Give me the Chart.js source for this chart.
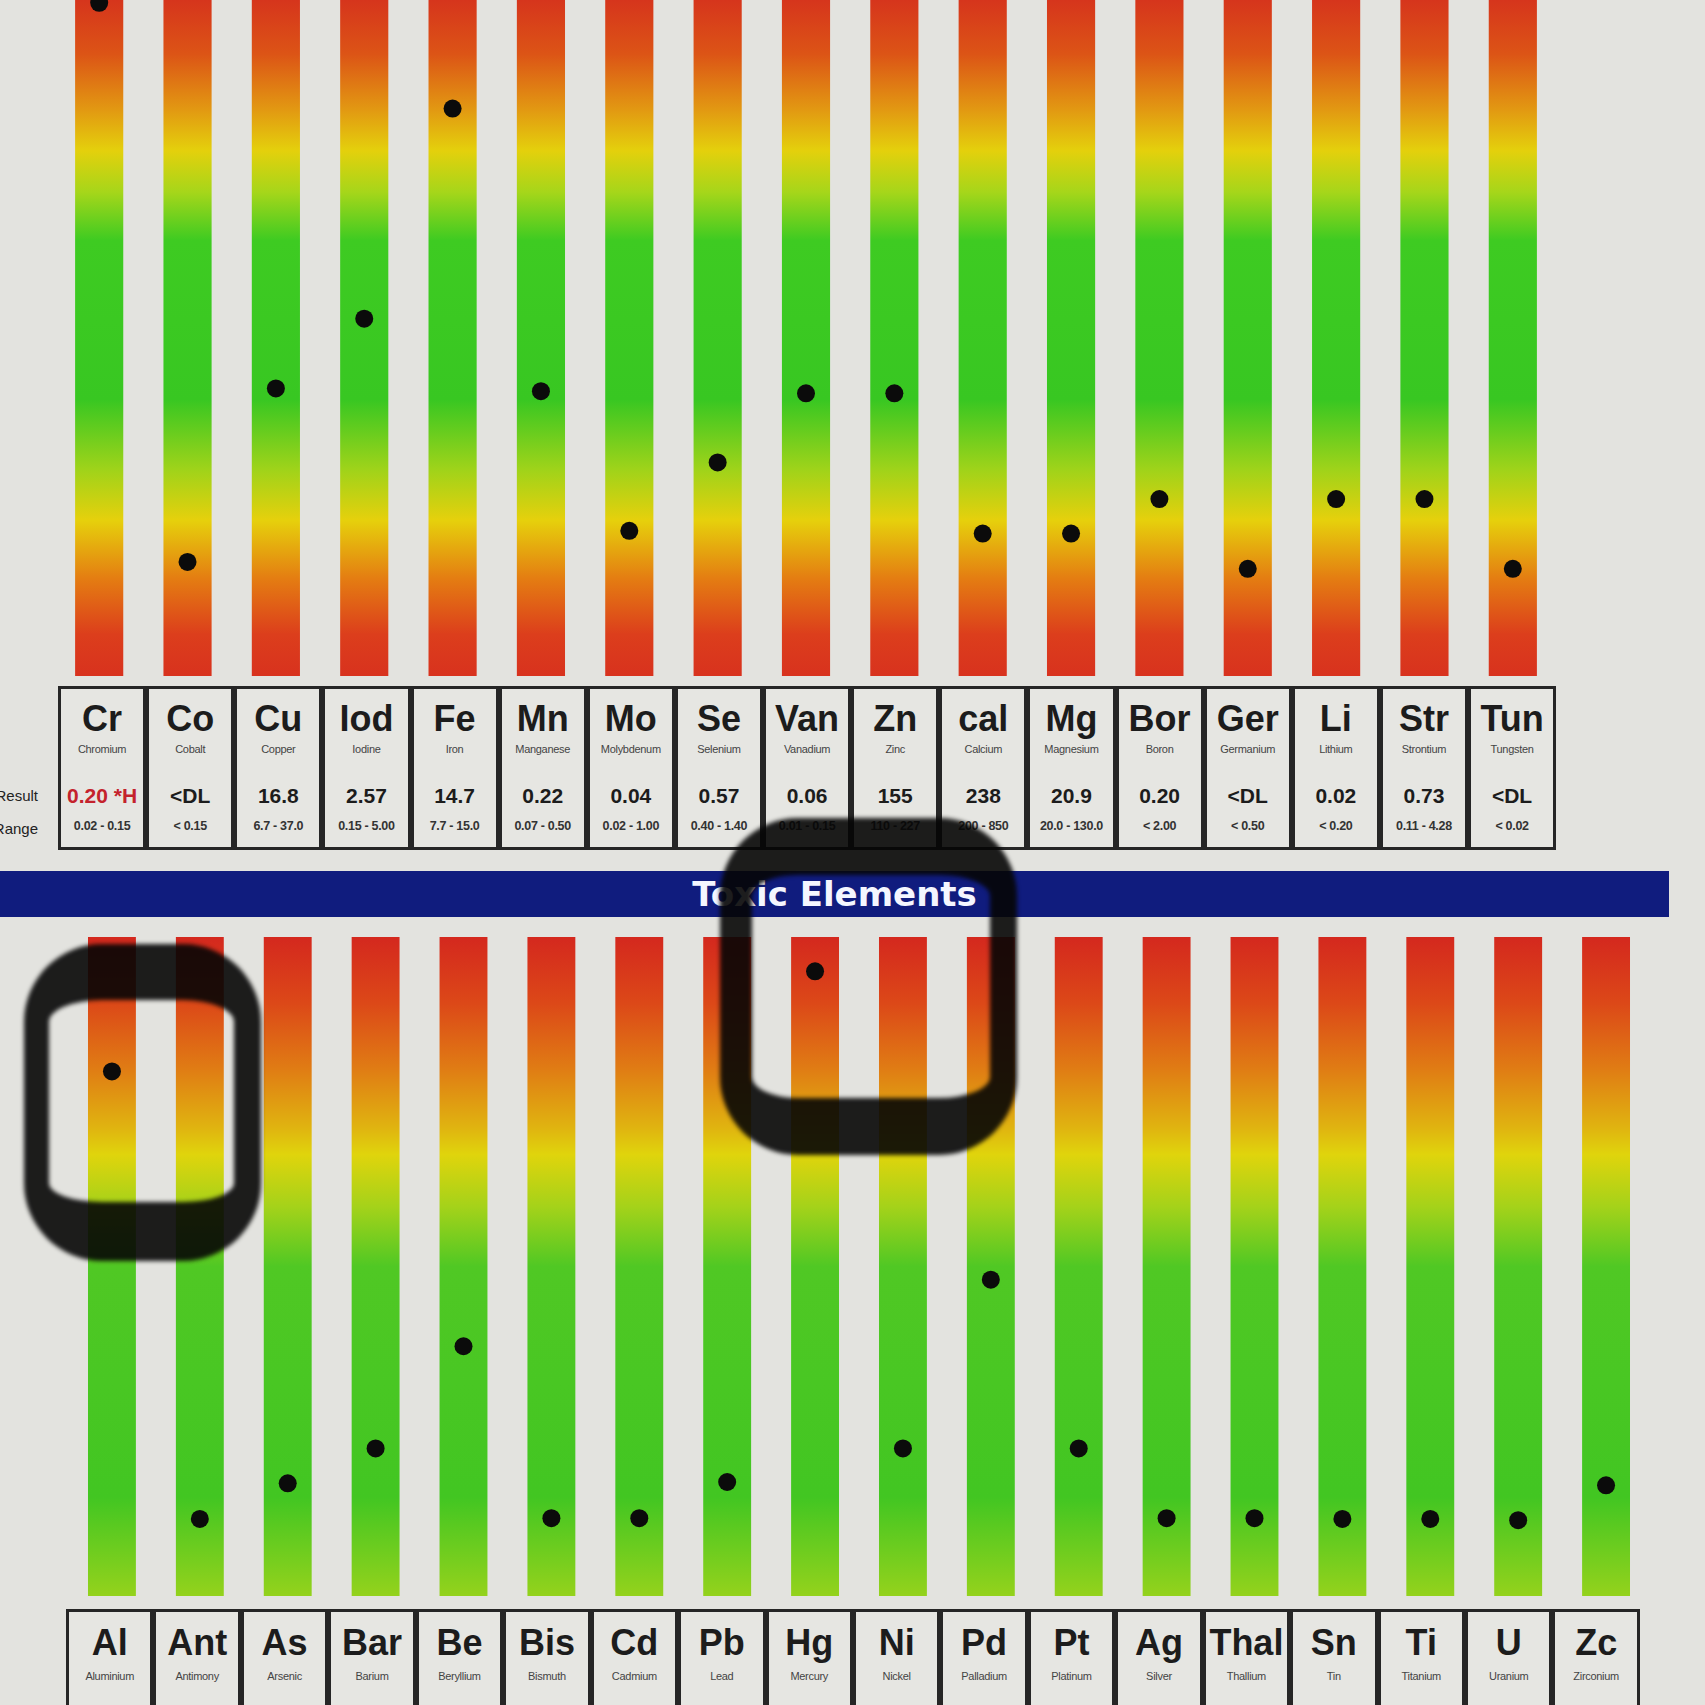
<!DOCTYPE html>
<html>
<head>
<meta charset="utf-8">
<script src="https://cdn.jsdelivr.net/npm/chart.js@4"></script>
<style>
  body { margin: 0; width: 1705px; height: 1705px; overflow: hidden; position: relative;
         background: #e3e3df; font-family: "Liberation Sans", Arial, sans-serif; color: #1c1c1c; }
  canvas { position: absolute; left: 0; }
  #topChart { top: 0; }
  #toxicChart { top: 937px; }
  .tbl { position: absolute; display: flex; }
  .cell { position: relative; flex: 1 1 0; box-sizing: border-box; border: 3px solid #262626; background: #e6e6e2; }
  .cell div { position: absolute; left: -4px; right: -4px; text-align: center; white-space: nowrap; }
  .sym { font-size: 36px; line-height: 36px; font-weight: bold; }
  .nm { font-size: 11px; line-height: 11px; color: #444; letter-spacing: -0.3px; }
  .res { font-size: 21px; line-height: 21px; font-weight: bold; }
  .rng { font-size: 12.5px; line-height: 13px; font-weight: bold; color: #333; letter-spacing: -0.3px; }
  .rowlab { position: absolute; right: 1667px; font-size: 15px; color: #222; }
  #banner { position: absolute; left: 0; top: 871px; width: 1669px; height: 46px; background: #101c7e;
            color: #f4f6ff; font: bold 34px "DejaVu Sans", sans-serif; line-height: 46px; text-align: center; }
  .loop { position: absolute; box-sizing: border-box; border-style: solid; border-color: rgba(6,6,6,0.9);
          border-radius: 78px; filter: blur(2px); }
</style>
</head>
<body>
<canvas id="topChart" width="1705" height="676"></canvas>
<div class="tbl" id="topTable" style="left:58px; top:686px; width:1498px; height:164px;"></div>
<div class="rowlab" style="top:787px;">Result</div>
<div class="rowlab" style="top:820px;">Range</div>
<div id="banner">Toxic Elements</div>
<canvas id="toxicChart" width="1705" height="659"></canvas>
<div class="tbl" id="toxicTable" style="left:66px; top:1609px; width:1574px; height:130px;"></div>
<div class="loop" style="left:24px; top:944px; width:237px; height:317px; border-width:56px 27px 59px 25px;"></div>
<div class="loop" style="left:720px; top:818px; width:297px; height:337px; border-width:57px 27px 57px 32px;"></div>
<script>
// essential elements (top panel)
var topLabels = ['Cr', 'Co', 'Cu', 'Iod', 'Fe', 'Mn', 'Mo', 'Se', 'Van', 'Zn', 'cal', 'Mg', 'Bor', 'Ger', 'Li', 'Str', 'Tun'];
var topNames = ['Chromium', 'Cobalt', 'Copper', 'Iodine', 'Iron', 'Manganese', 'Molybdenum', 'Selenium', 'Vanadium', 'Zinc',
                'Calcium', 'Magnesium', 'Boron', 'Germanium', 'Lithium', 'Strontium', 'Tungsten'];
var topResults = ['0.20 *H', '<DL', '16.8', '2.57', '14.7', '0.22', '0.04', '0.57', '0.06', '155', '238', '20.9', '0.20', '<DL', '0.02', '0.73', '<DL'];
var topRanges = ['0.02 - 0.15', '< 0.15', '6.7 - 37.0', '0.15 - 5.00', '7.7 - 15.0', '0.07 - 0.50', '0.02 - 1.00', '0.40 - 1.40',
                 '0.01 - 0.15', '110 - 227', '200 - 850', '20.0 - 130.0', '< 2.00', '< 0.50', '< 0.20', '0.11 - 4.28', '< 0.02'];
// dot position along the bar, 0 = bottom, 100 = top
var topPositions = [97.4, 16.5, 41.6, 51.7, 82.1, 41.2, 21.0, 30.9, 40.9, 40.9, 20.6, 20.6, 25.6, 15.5, 25.6, 25.6, 15.5];

// toxic elements (bottom panel)
var toxicLabels = ['Al', 'Ant', 'As', 'Bar', 'Be', 'Bis', 'Cd', 'Pb', 'Hg', 'Ni', 'Pd', 'Pt', 'Ag', 'Thal', 'Sn', 'Ti', 'U', 'Zc'];
var toxicNames = ['Aluminium', 'Antimony', 'Arsenic', 'Barium', 'Beryllium', 'Bismuth', 'Cadmium', 'Lead', 'Mercury', 'Nickel',
                  'Palladium', 'Platinum', 'Silver', 'Thallium', 'Tin', 'Titanium', 'Uranium', 'Zirconium'];
var toxicPositions = [79.6, 11.7, 17.1, 22.4, 37.9, 11.8, 11.8, 17.3, 94.8, 22.4, 48.0, 22.4, 11.8, 11.8, 11.7, 11.7, 11.5, 16.8];

var barRange = [0, 100];

// colour ramps, top of bar -> bottom of bar
var topStops = [[0, '#d42c1e'], [0.1, '#dc5416'], [0.18, '#e29812'], [0.24, '#e4d00c'], [0.3, '#a6d61a'], [0.37, '#3ecb22'],
                [0.6, '#38c722'], [0.7, '#9ed31a'], [0.775, '#e6d00c'], [0.86, '#e47c12'], [0.94, '#dc3e1c'], [1, '#d8321e']];
var toxicStops = [[0, '#d4281e'], [0.1, '#dc4818'], [0.2, '#e07c14'], [0.29, '#e0b410'], [0.33, '#e0d40c'], [0.41, '#a4d21a'],
                  [0.5, '#50c824'], [0.85, '#42c622'], [1, '#94d21c']];

function gradientFill(stops) {
  return function (ctx) {
    var chart = ctx.chart;
    if (!chart.chartArea) return null;
    var y = chart.scales.y;
    var g = chart.ctx.createLinearGradient(0, y.getPixelForValue(barRange[1]), 0, y.getPixelForValue(barRange[0]));
    stops.forEach(function (s) { g.addColorStop(s[0], s[1]); });
    return g;
  };
}

function makeChart(id, labels, positions, stops, yMax, padLeft, padRight) {
  return new Chart(document.getElementById(id), {
    data: {
      labels: labels,
      datasets: [
        { type: 'line', data: positions, showLine: false, order: 0, clip: false,
          pointRadius: 9, pointBackgroundColor: '#0b0b0b', pointBorderWidth: 0, pointHoverRadius: 9 },
        { type: 'bar', data: labels.map(function () { return barRange; }), order: 1,
          backgroundColor: gradientFill(stops), borderWidth: 0,
          categoryPercentage: 1, barPercentage: 0.545 }
      ]
    },
    options: {
      responsive: false,
      animation: false,
      layout: { autoPadding: false, padding: { left: padLeft, right: padRight, top: 0, bottom: 0 } },
      plugins: { legend: { display: false }, tooltip: { enabled: false } },
      scales: {
        x: { type: 'category', offset: true, display: false },
        y: { type: 'linear', min: 0, max: yMax, display: false }
      }
    }
  });
}

makeChart('topChart', topLabels, topPositions, topStops, 97.8, 55, 148);
makeChart('toxicChart', toxicLabels, toxicPositions, toxicStops, 100, 68, 55);

// label boxes under the bars
function addCell(table, sym, name, res, rng, layout) {
  var c = document.createElement('div');
  c.className = 'cell';
  var parts = [['sym', sym, layout[0]], ['nm', name, layout[1]]];
  if (res !== null) parts.push(['res', res, layout[2]], ['rng', rng, layout[3]]);
  parts.forEach(function (p) {
    var d = document.createElement('div');
    d.className = p[0];
    d.textContent = p[1];
    d.style.top = p[2] + 'px';
    if (p[0] === 'res' && p[1].indexOf('*H') >= 0) d.style.color = '#c4222c';
    c.appendChild(d);
  });
  table.appendChild(c);
}

var topTable = document.getElementById('topTable');
topLabels.forEach(function (s, i) {
  addCell(topTable, s, topNames[i], topResults[i], topRanges[i], [12, 55, 96, 131]);
});
var toxicTable = document.getElementById('toxicTable');
toxicLabels.forEach(function (s, i) {
  addCell(toxicTable, s, toxicNames[i], null, null, [13, 59]);
});
</script>
</body>
</html>
